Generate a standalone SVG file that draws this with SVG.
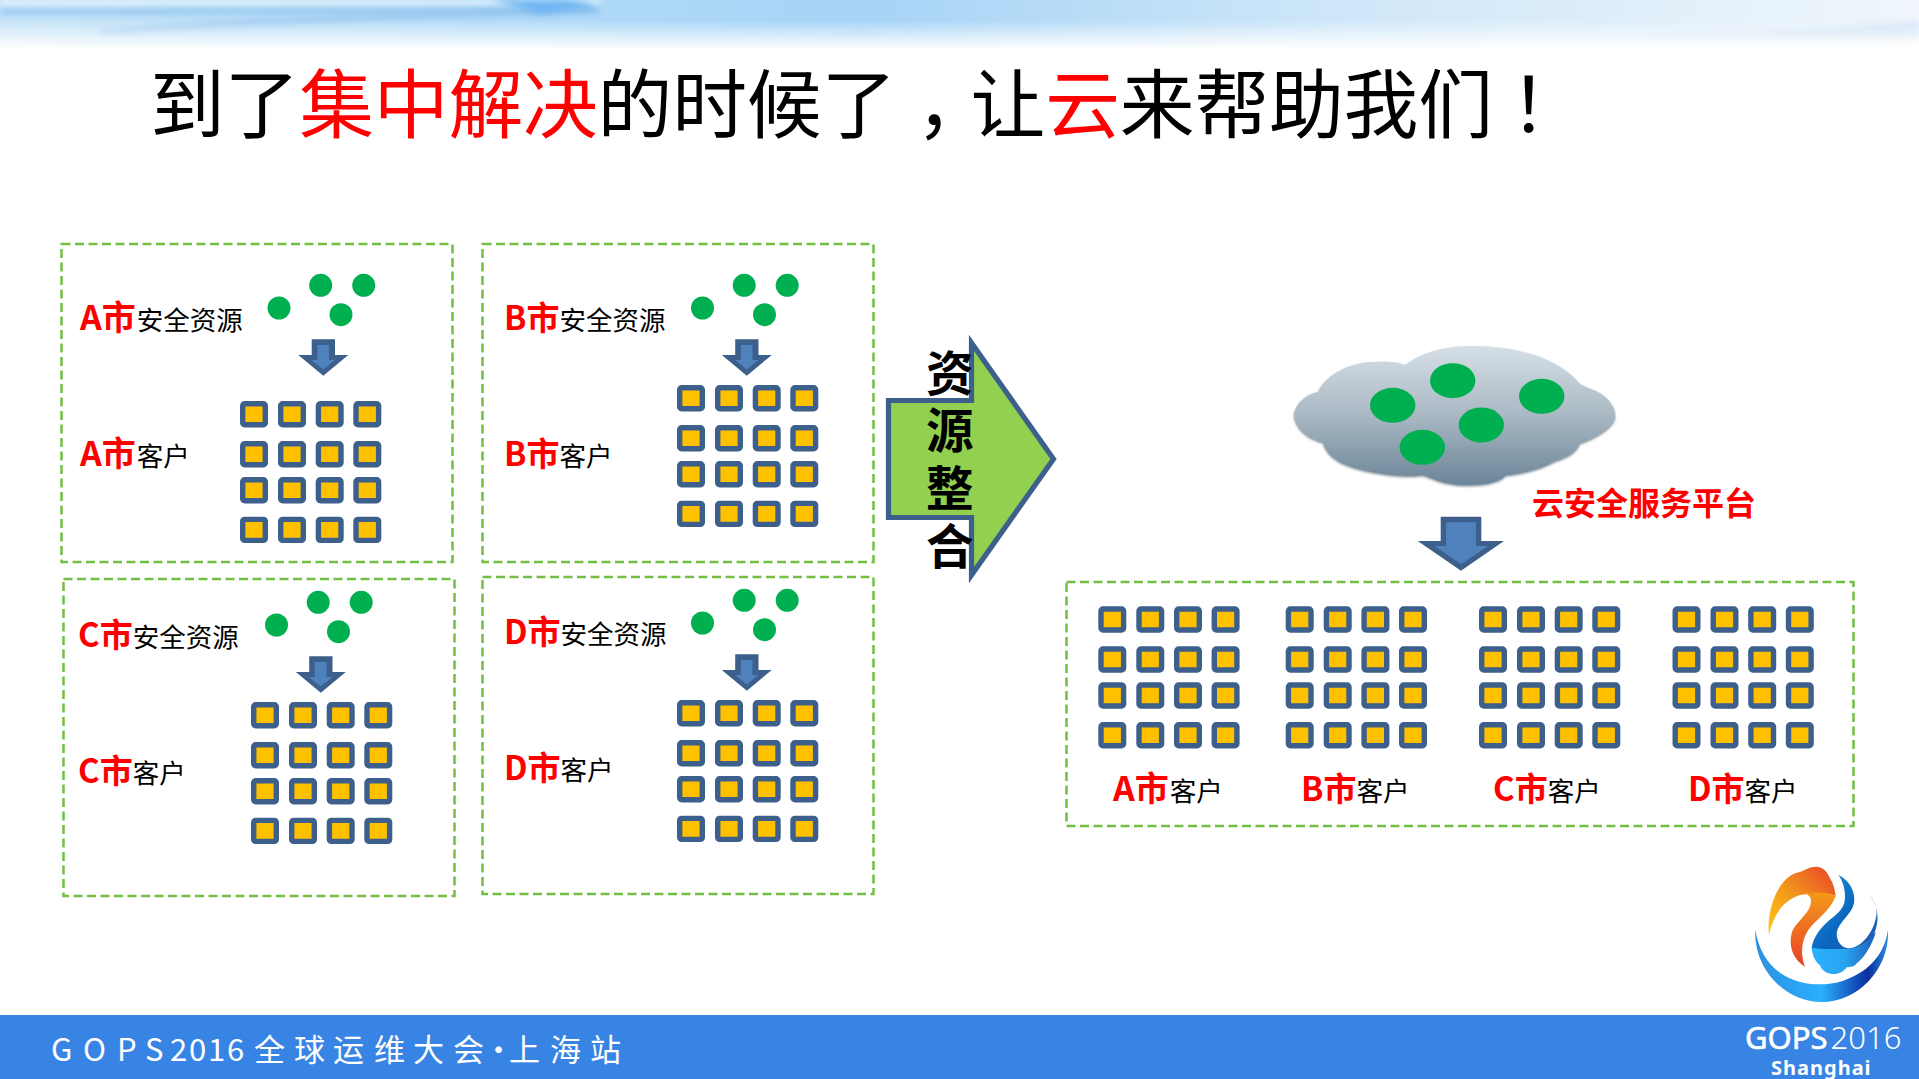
<svg xmlns="http://www.w3.org/2000/svg" xmlns:xlink="http://www.w3.org/1999/xlink" width="1919" height="1079" viewBox="0 0 1919 1079">
<style>
text{font-family:"Noto Sans CJK SC","Liberation Sans",sans-serif}
.panel{fill:none;stroke:#72BF44;stroke-width:2.5;stroke-dasharray:9 4.5}
.sq{fill:#FFC000;stroke:#3C5F8C;stroke-width:5.4}
.dot{fill:#00B050}
.ao{fill:#3C5F8C}
.ai{fill:#4F81BD}
.r{fill:#F00;font-weight:700;font-size:33px}
.ra{fill:#F00;font-weight:700;font-size:34px}
.k{fill:#000;font-size:26.5px}
.foot{fill:#fff;font-size:31px}
</style>
<defs>
<g id="grid">
<rect class="sq" x="2.7" y="2.7" width="22.6" height="21" rx="2"/><rect class="sq" x="40.7" y="2.7" width="22.6" height="21" rx="2"/><rect class="sq" x="78.4" y="2.7" width="22.6" height="21" rx="2"/><rect class="sq" x="116" y="2.7" width="22.6" height="21" rx="2"/>
<rect class="sq" x="2.7" y="42.7" width="22.6" height="21" rx="2"/><rect class="sq" x="40.7" y="42.7" width="22.6" height="21" rx="2"/><rect class="sq" x="78.4" y="42.7" width="22.6" height="21" rx="2"/><rect class="sq" x="116" y="42.7" width="22.6" height="21" rx="2"/>
<rect class="sq" x="2.7" y="78.7" width="22.6" height="21" rx="2"/><rect class="sq" x="40.7" y="78.7" width="22.6" height="21" rx="2"/><rect class="sq" x="78.4" y="78.7" width="22.6" height="21" rx="2"/><rect class="sq" x="116" y="78.7" width="22.6" height="21" rx="2"/>
<rect class="sq" x="2.7" y="118.4" width="22.6" height="21" rx="2"/><rect class="sq" x="40.7" y="118.4" width="22.6" height="21" rx="2"/><rect class="sq" x="78.4" y="118.4" width="22.6" height="21" rx="2"/><rect class="sq" x="116" y="118.4" width="22.6" height="21" rx="2"/>
</g>
<g id="res">
<circle class="dot" cx="320.7" cy="285.3" r="11.5"/><circle class="dot" cx="363.7" cy="285.3" r="11.5"/><circle class="dot" cx="279" cy="308" r="11.5"/><circle class="dot" cx="341" cy="314.7" r="11.5"/>
<polygon class="ao" points="311.7,339.3 335,339.3 335,355 348.3,355 323.3,375.7 298.3,355 311.7,355"/>
<polygon class="ai" points="317.3,345 329,345 329,360 335,360 323.3,369.5 311.5,360 317.3,360"/>
</g>
<linearGradient id="cloud" x1="0" y1="0" x2="0" y2="1"><stop offset="0" stop-color="#D6DFE6"/><stop offset=".5" stop-color="#A9B8C3"/><stop offset="1" stop-color="#6A8598"/></linearGradient>
<linearGradient id="hdr" x1="0" y1="0" x2="1" y2="0"><stop offset="0" stop-color="#C6E4F8"/><stop offset=".25" stop-color="#B2DBF7"/><stop offset=".45" stop-color="#A6D3F6"/><stop offset=".7" stop-color="#CFE7F9"/><stop offset="1" stop-color="#F0F6FB"/></linearGradient>
<linearGradient id="fade" x1="0" y1="0" x2="0" y2="1"><stop offset="0" stop-color="#fff" stop-opacity="0"/><stop offset=".4" stop-color="#fff" stop-opacity="0"/><stop offset=".75" stop-color="#fff" stop-opacity=".6"/><stop offset="1" stop-color="#fff"/></linearGradient>
<filter id="b3" x="-10%" y="-200%" width="120%" height="500%"><feGaussianBlur stdDeviation="3"/></filter>
<filter id="cs" x="-5%" y="-5%" width="110%" height="110%"><feDropShadow dx="0" dy="1.5" stdDeviation="1" flood-color="#4A6070" flood-opacity=".7"/></filter>
<linearGradient id="lr" x1="0" y1="0" x2="1" y2="0"><stop offset="0" stop-color="#2E8FE0"/><stop offset=".5" stop-color="#2AB0FF"/><stop offset=".85" stop-color="#0A2E9E"/><stop offset="1" stop-color="#2A8FE0"/></linearGradient>
<linearGradient id="lo" x1="0" y1="1" x2="1" y2="0"><stop offset="0" stop-color="#FFC81E"/><stop offset=".45" stop-color="#F39A1A"/><stop offset="1" stop-color="#E8412A"/></linearGradient>
<linearGradient id="lo2" x1="0" y1="0" x2="0" y2="1"><stop offset="0" stop-color="#F39A1A"/><stop offset="1" stop-color="#E8412A"/></linearGradient>
<linearGradient id="lb" x1="0" y1="0" x2="1" y2="1"><stop offset="0" stop-color="#1E9BE0"/><stop offset=".5" stop-color="#0B66BE"/><stop offset="1" stop-color="#2A55B0"/></linearGradient>
<linearGradient id="lb2" x1="0" y1="0" x2="1" y2="0"><stop offset="0" stop-color="#29B1FF"/><stop offset=".5" stop-color="#29A5F0"/><stop offset="1" stop-color="#1E5FB8"/></linearGradient>
</defs>
<rect width="1919" height="1079" fill="#fff"/>
<g id="header">
<rect width="1919" height="50" fill="url(#hdr)"/>
<path d="M0 0 L600 0 L600 6 L0 7Z" fill="#E2F2FB" filter="url(#b3)"/>
<path d="M0 9 L600 8 L600 13 L0 14Z" fill="#8DC2EE" filter="url(#b3)"/>
<path d="M100 30 C250 18 420 14 590 6 L590 12 C420 18 250 24 100 36Z" fill="#8FBCEB" opacity=".7" filter="url(#b3)"/>
<path d="M490 0 L570 0 L600 7 L540 14 Z" fill="#6FB6F2" filter="url(#b3)"/>
<path d="M1560 36 C1700 34 1800 30 1919 22 L1919 40 C1800 42 1700 42 1560 36Z" fill="#CFE3F6" filter="url(#b3)"/>
<rect width="1919" height="50" fill="url(#fade)"/>
</g>
<text id="title" y="132" font-size="74.8" fill="#000" x="150 224.6 299.2 373.8 448.4 523 597.6 672.2 746.8 821.4 916 970.6 1045.2 1119.8 1194.4 1269 1343.6 1418.2 1510">到了<tspan fill="#F00">集中解决</tspan>的时候了，让<tspan fill="#F00">云</tspan>来帮助我们！</text>

<g id="panel-a">
<rect class="panel" x="61.5" y="244" width="391" height="318"/>
<use xlink:href="#res" href="#res"/>
<use xlink:href="#grid" href="#grid" transform="translate(240,401)"/>
<text x="80" y="330"><tspan class="ra">A市</tspan><tspan class="k" dx="1">安全资源</tspan></text>
<text x="80" y="466"><tspan class="ra">A市</tspan><tspan class="k" dx="1">客户</tspan></text>
</g>
<g id="panel-b">
<rect class="panel" x="482.5" y="244" width="391" height="318"/>
<use xlink:href="#res" href="#res" transform="translate(423.5,0)"/>
<use xlink:href="#grid" href="#grid" transform="translate(677,385)"/>
<text x="504" y="330"><tspan class="r">B市</tspan><tspan class="k">安全资源</tspan></text>
<text x="504" y="466"><tspan class="r">B市</tspan><tspan class="k">客户</tspan></text>
</g>
<g id="panel-c">
<rect class="panel" x="63.5" y="579" width="391" height="317"/>
<use xlink:href="#res" href="#res" transform="translate(-2.5,317)"/>
<use xlink:href="#grid" href="#grid" transform="translate(251,702)"/>
<text x="78" y="647"><tspan class="r">C市</tspan><tspan class="k">安全资源</tspan></text>
<text x="78" y="783"><tspan class="r">C市</tspan><tspan class="k">客户</tspan></text>
</g>
<g id="panel-d">
<rect class="panel" x="482.5" y="577" width="391" height="317"/>
<use xlink:href="#res" href="#res" transform="translate(423.5,315)"/>
<use xlink:href="#grid" href="#grid" transform="translate(677,700)"/>
<text x="504" y="644"><tspan class="r">D市</tspan><tspan class="k">安全资源</tspan></text>
<text x="504" y="780"><tspan class="r">D市</tspan><tspan class="k">客户</tspan></text>
</g>

<g id="connectors">
<polygon points="888.5,400.5 971.5,400.5 971.5,343 1053.5,459 971.5,575 971.5,517.5 888.5,517.5" fill="#92D050" stroke="#3C5F8C" stroke-width="5.2"/>
<polygon class="ao" points="1440.7,516.7 1481.3,516.7 1481.3,541 1504,541 1461,570.7 1417.7,541 1440.7,541"/>
<polygon class="ai" points="1446,522.3 1476,522.3 1476,546 1488,546 1461,564.3 1434.5,546 1446,546"/>
</g>
<text id="merge-label" x="926 926 926 926" y="391 448 506 564" font-size="47.5" font-weight="700" fill="#000">资源整合</text>

<g id="cloud-node">
<path filter="url(#cs)" fill="url(#cloud)" d="M1294 414 C1296 403 1306 394 1318 392 C1324 378 1345 363 1372 362 C1388 361 1398 362 1405 365 C1425 350 1450 346 1473 346 C1520 346 1560 360 1578 382 C1582 386 1590 388 1596 391 C1610 398 1616 408 1615 418 C1612 428 1595 438 1580 443 C1576 452 1570 456 1555 461 C1535 472 1510 475 1506 475 C1498 484 1480 485 1465 485 C1445 485 1432 478 1423 475 C1400 478 1360 472 1340 462 C1330 456 1325 450 1323 442 C1305 438 1294 425 1294 414Z"/>
<ellipse class="dot" cx="1392.7" cy="405.3" rx="22.7" ry="17.5"/>
<ellipse class="dot" cx="1452.7" cy="380.7" rx="22.7" ry="17.5"/>
<ellipse class="dot" cx="1541.7" cy="396.3" rx="22.7" ry="17.5"/>
<ellipse class="dot" cx="1481.3" cy="425" rx="22.7" ry="17.5"/>
<ellipse class="dot" cx="1422.3" cy="447.3" rx="22.7" ry="17.5"/>
<text x="1532" y="515" font-size="32" font-weight="700" fill="#F00">云安全服务平台</text>
</g>

<g id="panel-all">
<rect class="panel" x="1066.5" y="582" width="787" height="244"/>
<use xlink:href="#grid" href="#grid" transform="translate(1098.3,606.3)"/>
<use xlink:href="#grid" href="#grid" transform="translate(1285.7,606.3)"/>
<use xlink:href="#grid" href="#grid" transform="translate(1479,606.3)"/>
<use xlink:href="#grid" href="#grid" transform="translate(1672.5,606.3)"/>
<text x="1113" y="801"><tspan class="ra">A市</tspan><tspan class="k" dx="1">客户</tspan></text>
<text x="1301" y="801"><tspan class="r">B市</tspan><tspan class="k">客户</tspan></text>
<text x="1493" y="801"><tspan class="r">C市</tspan><tspan class="k">客户</tspan></text>
<text x="1688" y="801"><tspan class="r">D市</tspan><tspan class="k">客户</tspan></text>
</g>

<g id="logo" transform="translate(1700,850) scale(.3333)">
<path fill="url(#lr)" d="M166 240 C160 350 250 456 365 456 C480 456 570 350 564 240 C552 320 500 368 430 392 C360 414 290 402 240 368 C200 340 175 295 166 240Z"/>
<path fill="url(#lo)" d="M207 255 C198 170 240 82 290 68 C310 65 322 50 350 50 C375 52 383 70 390 85 C400 100 405 120 407 138 C380 128 340 125 300 135 C250 150 220 195 207 255Z"/>
<path fill="url(#lo2)" d="M300 135 C340 122 385 128 407 138 C390 185 350 205 325 240 C305 270 300 310 315 350 C280 330 265 290 275 250 C285 215 335 190 333 150 C331 135 318 130 300 135Z"/>
<path fill="url(#lb)" d="M415 75 C450 90 468 130 462 160 C455 195 415 215 410 250 C410 280 430 297 450 295 C490 290 525 240 530 190 C530 170 522 150 510 135 C528 160 535 190 532 215 C525 270 480 330 470 335 L335 295 C338 260 370 225 395 205 C420 185 435 170 435 140 C435 115 428 92 415 75Z"/>
<path fill="url(#lb2)" d="M335 293 C370 298 400 297 430 297 C460 298 500 285 528 245 C515 290 490 325 470 340 C465 350 450 352 440 352 C430 368 410 374 395 372 C375 370 362 355 360 345 C345 335 337 315 335 293Z"/>
</g>

<g id="footer">
<rect y="1015" width="1919" height="64" fill="#3884E4"/>
<text class="foot" y="1061" x="51 83 117 145 170 189 208 227 254 294 333 374 413 453 483 509 550 590">GOPS2016全球运维大会·上海站</text>
<text x="1745" y="1049" font-size="31" fill="#fff" style="font-family:'Noto Sans','Liberation Sans',sans-serif"><tspan stroke="#fff" stroke-width=".6">GOPS</tspan><tspan dx="3" font-weight="300">2016</tspan></text>
<text x="1771" y="1075" font-size="20" font-weight="700" letter-spacing="1" fill="#fff" style="font-family:'Noto Sans','Liberation Sans',sans-serif">Shanghai</text>
</g>
</svg>
